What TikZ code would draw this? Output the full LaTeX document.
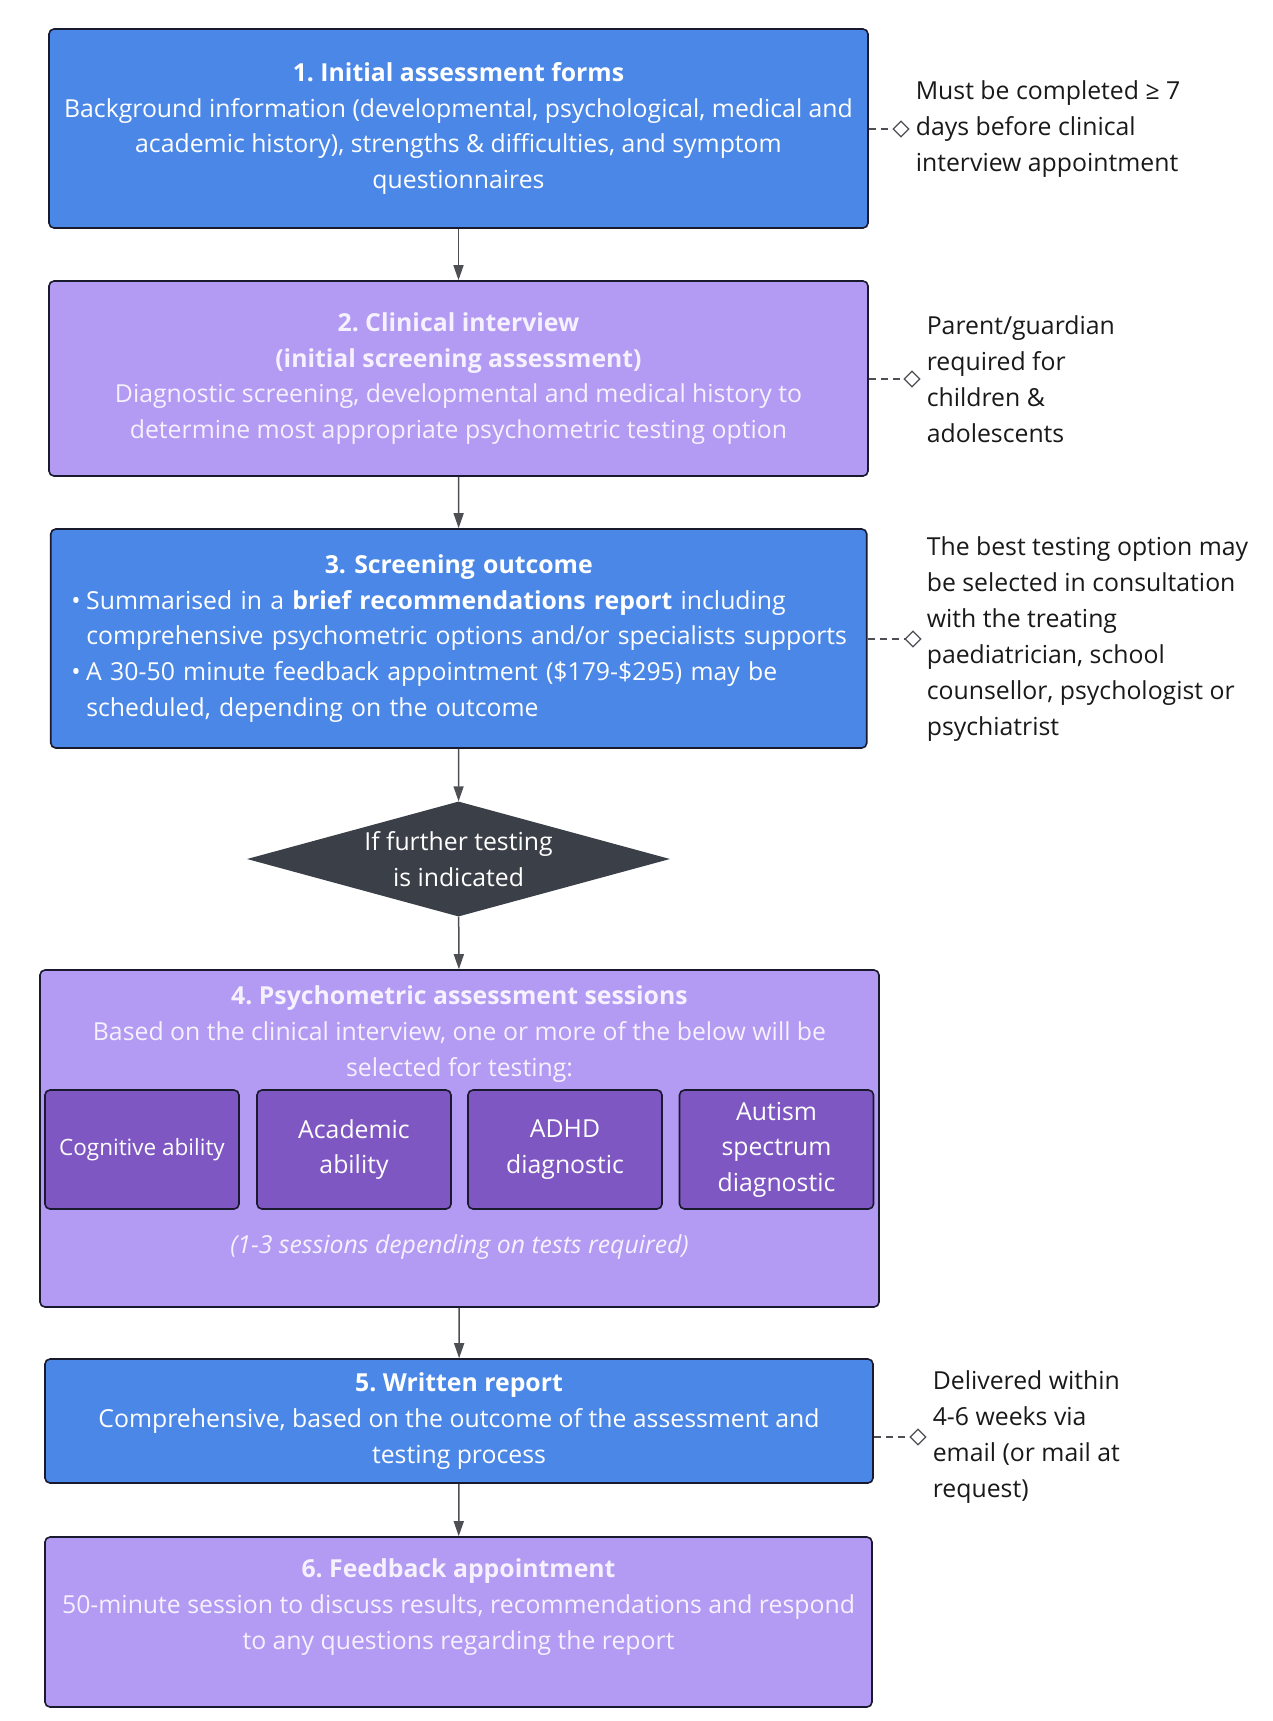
\documentclass[tikz,border=0pt]{standalone}
\usepackage{fontspec}
\setmainfont{Open Sans}
\usetikzlibrary{arrows.meta,shapes.geometric,positioning}
\definecolor{stepblue}{HTML}{4B87E7}
\definecolor{steppurple}{HTML}{B39AF2}
\definecolor{testpurple}{HTML}{7E57C2}
\definecolor{decisiongray}{HTML}{3B3F47}
\definecolor{edgedark}{HTML}{1A1A2E}
\definecolor{linkgray}{HTML}{4D4F55}
\definecolor{paletext}{HTML}{F5F1FF}
\setlength{\parindent}{0pt}
\frenchspacing

\begin{document}
\begin{tikzpicture}[x=1pt,y=-1pt,
        stage/.style={draw=edgedark, line width=1.6pt, rounded corners=5pt, text=white,
                align=center, inner sep=0pt, font=\fontsize{24.8}{35.6}\selectfont},
        test/.style={stage, fill=testpurple, minimum width=194pt, minimum height=119pt},
        decision/.style={diamond, fill=decisiongray, minimum width=423pt, minimum height=115pt, inner sep=0pt},
        marker/.style={diamond, draw=linkgray, fill=white, line width=1.2pt, minimum width=16pt,
                minimum height=16pt, inner sep=0pt},
        note/.style={align=left, inner sep=0pt, text=black!90, font=\fontsize{24.8}{36}\selectfont},
        link/.style={-{Triangle[length=15pt,width=10pt]}, draw=linkgray, line width=1.5pt},
        notelink/.style={draw=linkgray, line width=1.2pt, dash pattern=on 7pt off 5pt}]
        \useasboundingbox (0,0) rectangle (1273,1721);
        % Stages
        \node[stage, fill=stepblue, minimum width=819pt, minimum height=199pt] (forms) at (458.5,128.5)
                {\textbf{1. Initial assessment forms}\\
                Background information (developmental, psychological, medical and\\
                academic history), strengths \& difficulties, and symptom\\
                questionnaires};
        \node[stage, fill=steppurple, text=paletext, minimum width=819pt, minimum height=195pt] (interview) at (458.5,378.5)
                {\textbf{2. Clinical interview}\\
                \textbf{(initial screening assessment)}\\
                Diagnostic screening, developmental and medical history to\\
                determine most appropriate psychometric testing option};
        \node[stage, fill=stepblue, minimum width=816pt, minimum height=219pt, text width=781pt, align=left] (outcome) at (458.75,638.5)
                {{\centering\textbf{3. Screening outcome}\par}
                \makebox[18pt][l]{\hspace{3pt}•}Summarised in a \textbf{brief recommendations report} including\\
                \hspace*{18pt}comprehensive psychometric options and/or specialists supports\\
                \makebox[18pt][l]{\hspace{3pt}•}A 30-50 minute feedback appointment (\$179-\$295) may be\\
                \hspace*{18pt}scheduled, depending on the outcome};
        \node[decision, label={[text=white, align=center, font=\fontsize{24.8}{35.6}\selectfont]center:If further testing\\is indicated}] (further) at (458.5,859) {};
        \node[stage, fill=steppurple, minimum width=839pt, minimum height=337pt] (sessions) at (459.5,1138.5) {};
        \node[stage, draw=none, text=paletext] (sessionstext) at (459.5,1034)
                {\textbf{4. Psychometric assessment sessions}\\
                Based on the clinical interview, one or more of the below will be\\
                selected for testing:};
        \node[test, font=\fontsize{22.5}{32}\selectfont] (cognitive) at (142,1149.5) {Cognitive ability};
        \node[test] (academic) at (354,1149.5) {Academic\\ability};
        \node[test] (adhd) at (565,1149.5) {ADHD\\diagnostic};
        \node[test] (autism) at (776.5,1149.5) {Autism\\spectrum\\diagnostic};
        \node[stage, draw=none, text=paletext] (sessioncount) at (459.5,1247)
                {\itshape (1-3 sessions depending on tests required)};
        \node[stage, fill=stepblue, minimum width=828pt, minimum height=124pt] (report) at (459,1421)
                {\textbf{5. Written report}\\
                Comprehensive, based on the outcome of the assessment and\\
                testing process};
        \node[stage, fill=steppurple, minimum width=827pt, minimum height=170pt] (feedback) at (458.5,1622) {};
        \node[stage, draw=none, text=paletext] (feedbacktext) at ([yshift=15pt]feedback.center)
                {\textbf{6. Feedback appointment}\\
                50-minute session to discuss results, recommendations and respond\\
                to any questions regarding the report};
        % Flow
        \draw[link] (forms) -- (interview);
        \draw[link] (interview) -- (outcome);
        \draw[link] (outcome) -- (further);
        \draw[link] (further) -- (sessions);
        \draw[link] (sessions) -- (report);
        \draw[link] (report) -- (feedback);
        % Side notes
        \node[marker] (formsmark) at (901,129) {};
        \node[note, right=6pt of formsmark] (formsnote) {Must be completed ≥ 7\\days before clinical\\interview appointment};
        \node[marker] (interviewmark) at (912,379) {};
        \node[note, right=6pt of interviewmark] (interviewnote) {Parent/guardian\\required for\\children \&\\adolescents};
        \node[marker] (outcomemark) at (913,639) {};
        \node[note, right=5pt of outcomemark] (outcomenote) {The best testing option may\\be selected in consultation\\with the treating\\paediatrician, school\\counsellor, psychologist or\\psychiatrist};
        \node[marker] (reportmark) at (918,1437) {};
        \node[note, right=6pt of reportmark] (reportnote) {Delivered within\\4-6 weeks via\\email (or mail at\\request)};
        \draw[notelink] (forms.east |- formsmark) -- (formsmark);
        \draw[notelink] (interview.east |- interviewmark) -- (interviewmark);
        \draw[notelink] (outcome.east |- outcomemark) -- (outcomemark);
        \draw[notelink] (report.east |- reportmark) -- (reportmark);
\end{tikzpicture}
\end{document}
